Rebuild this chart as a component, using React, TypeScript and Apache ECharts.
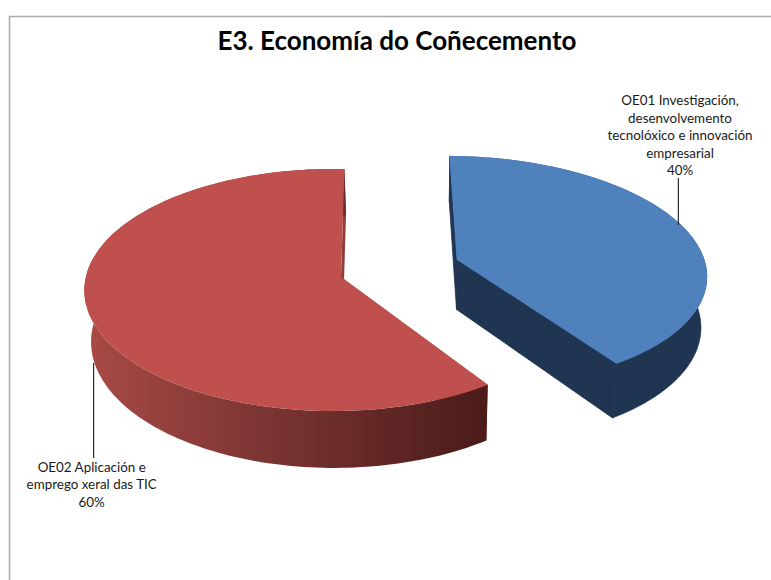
import React, { useEffect, useRef } from "react";
import * as echarts from "echarts";

const titleText = "E3. Economía do Coñecemento";
const sliceNames = [
  "OE01 Investigación,\ndesenvolvemento\ntecnolóxico e innovación\nempresarial",
  "OE02 Aplicación e\nemprego xeral das TIC",
];
const sliceValues = [40.49, 59.51];

const topColors = ["#4F81BD", "#C0504D"];
const pullU = [0.462, 0];
const pullV = [0.15, 0];
const radius = [0.98, 1];
const spanX = [255.6, 247.5];
const lateral = [0, 0.03];
const labelAnchors = [
  { x: 680, y: 91.5, lineX: 678.3, y1: 178, y2: 225 },
  { x: 91.7, y: 458, lineX: 93.7, y1: 363, y2: 458 },
];

const START_DEG = 0.9;
const CX = 341;
const CY = 277;
const B = 119.6;
const K = 0.107;

type Pt = [number, number];

function project(u: number, v: number, i: number): Pt {
  const w = 1 + K * v + lateral[i] * u;
  return [CX + (spanX[i] * u) / w, CY - (B * v) / w];
}
function lower(p: Pt): Pt {
  return [420 + 0.98 * (p[0] - 420), p[1] + 50 + 0.045 * (p[1] - 258)];
}
function toPath(pts: Pt[]): string {
  return "M" + pts.map((p) => p[0].toFixed(1) + " " + p[1].toFixed(1)).join("L") + "Z";
}

function renderSlice(params: any, api: any) {
  const i = params.dataIndex;
  const total = sliceValues.reduce((a, b) => a + b, 0);
  const before = sliceValues.slice(0, i).reduce((a, b) => a + b, 0);
  const value = api.value(0);
  const a0 = ((START_DEG + (360 * before) / total) * Math.PI) / 180;
  const a1 = a0 + ((360 * value) / total) * (Math.PI / 180);
  const ou = pullU[i];
  const ov = pullV[i];
  const r = radius[i];
  const arc: Pt[] = [];
  const steps = 160;
  for (let s = 0; s <= steps; s++) {
    const t = a0 + ((a1 - a0) * s) / steps;
    arc.push(project(ou + r * Math.sin(t), ov + r * Math.cos(t), i));
  }
  const apex = project(ou, ov, i);
  const lowArc = arc.map(lower);
  const lowApex = lower(apex);
  const first = arc[0];
  const last = arc[arc.length - 1];
  const outer = toPath([...arc, ...lowArc.slice().reverse()]);
  const wallA = toPath([first, apex, lowApex, lowArc[0]]);
  const wallB = toPath([apex, last, lowArc[lowArc.length - 1], lowApex]);
  const isBlue = i === 0;
  const sideFill: any = isBlue
    ? "#1F3552"
    : new echarts.graphic.LinearGradient(
        84,
        0,
        490,
        0,
        [
          { offset: 0, color: "#A94A46" },
          { offset: 0.5, color: "#763230" },
          { offset: 1, color: "#4A1B19" },
        ],
        true
      );
  const wallFill = isBlue ? "#1F3552" : "#8E3D3A";
  const wallStroke = isBlue ? { stroke: "#1F3552", lineWidth: 0.8 } : {};
  const topStroke = isBlue ? { stroke: topColors[i], lineWidth: 1.2 } : {};
  const anchor = labelAnchors[i];
  const pct = Math.round((value / total) * 100) + "%";
  return {
    type: "group",
    children: [
      { type: "path", shape: { pathData: wallA }, style: { fill: wallFill, ...wallStroke } },
      { type: "path", shape: { pathData: wallB }, style: { fill: wallFill, ...wallStroke } },
      { type: "path", shape: { pathData: outer }, style: { fill: sideFill, ...wallStroke } },
      {
        type: "path",
        shape: { pathData: toPath([apex, ...arc]) },
        style: { fill: topColors[i], ...topStroke },
      },
      {
        type: "line",
        shape: { x1: anchor.lineX, y1: anchor.y1, x2: anchor.lineX, y2: anchor.y2 },
        style: { stroke: "#000", lineWidth: 1 },
      },
      {
        type: "text",
        x: anchor.x,
        y: anchor.y,
        style: {
          text: sliceNames[i] + "\n" + pct,
          fill: "#1a1a1a",
          font: "13.4px Lato",
          lineHeight: 17.5,
          align: "center",
          verticalAlign: "top",
        },
      },
    ],
  };
}

export default function App() {
  const ref = useRef<HTMLDivElement>(null);
  useEffect(() => {
    document.body.style.margin = "0";
    const chart = echarts.init(ref.current!, undefined, { renderer: "svg" });
    chart.setOption({
      animation: false,
      backgroundColor: "#fff",
      title: {
        text: titleText,
        left: 392,
        top: 22,
        textAlign: "center",
        textStyle: { fontFamily: "Lato", fontWeight: "bold", fontSize: 26, color: "#000" },
      },
      graphic: [
        {
          type: "polyline",
          shape: { points: [[9.5, 580], [9.5, 16.5], [771, 16.5]] },
          style: { stroke: "#ABABAB", lineWidth: 1.5, fill: "none" },
        },
      ],
      series: [
        {
          type: "custom",
          coordinateSystem: "none",
          renderItem: renderSlice,
          data: sliceValues.map((v) => [v]),
          silent: true,
        },
      ],
    });
    return () => chart.dispose();
  }, []);
  return <div ref={ref} style={{ width: 771, height: 580 }} />;
}
